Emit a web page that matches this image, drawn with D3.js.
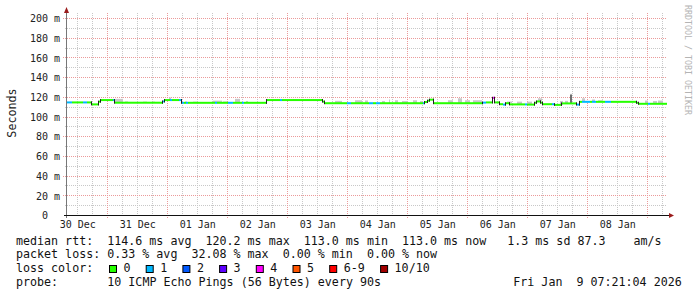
<!DOCTYPE html>
<html>
<head>
<meta charset="utf-8">
<script src="https://cdn.jsdelivr.net/npm/d3@7"></script>
<style>
  html, body { margin: 0; padding: 0; background: #fff; }
  svg text { font-family: "DejaVu Sans Mono", monospace; white-space: pre; }
</style>
</head>
<body>
<div id="chart"></div>
<script>
'use strict';

// median rtt as steps: hours after graph start, median in ms, lost pings (of 10)
var segHours = [0, 2, 6.4, 8, 10, 12.8, 13.6, 18.4, 19.2, 38.4, 39.2, 41.2, 42, 44.8, 46, 46.8, 47.6, 48.4,
    59.2, 60, 64.4, 66.4, 70, 70.8, 80, 85.2, 86, 102.4, 103.2, 112, 113.6, 120.8, 122.4, 123.6, 125.2,
    142.4, 143.2, 144.4, 145.2, 146.8, 166.4, 167.6, 170.4, 171.2, 173.2, 174.4, 175.6, 177.2, 183.2, 184,
    187.2, 188, 189.6, 190.4, 194, 195.2, 198, 204, 205.2, 206, 209.2, 210, 211.6, 215.2, 217.6, 228,
    228.8, 232.4, 233.2];
var segMs = [114.8, 114.8, 114.8, 114.8, 112.8, 115.6, 117.2, 117.2, 114.5, 115.8, 117.2, 117.2, 117.2, 117.2, 114.4, 114.4, 114.4, 114.4,
    114.4, 114.4, 114.4, 114.4, 114.4, 114.4, 117.2, 117.2, 117.2, 115.6, 114.0, 114.0, 114.0, 114.0, 114.0, 114.0, 114.0,
    114.0, 115.2, 116.6, 117.6, 114.0, 114.6, 114.8, 119.5, 114.8, 113.0, 112.6, 114.0, 112.8, 112.8, 112.6,
    114.5, 115.8, 114.5, 113.0, 113.0, 112.3, 113.8, 112.6, 115.4, 115.4, 115.4, 115.4, 115.4, 115.4, 115.4, 114.4,
    113.4, 113.4, 113.4];
var segLoss = [1, 0, 1, 0, 0, 0, 0, 1, 0, 1, 0, 1, 0, 1, 1, 0, 1, 0,
    1, 0, 1, 0, 1, 0, 0, 1, 0, 0, 0, 1, 0, 1, 0, 1, 0,
    1, 0, 0, 0, 0, 1, 0, 4, 0, 0, 1, 0, 0, 1, 0,
    0, 0, 0, 0, 1, 0, 0, 1, 0, 1, 0, 1, 0, 1, 0, 0,
    0, 1, 0];

// smoke (highest pings) above the median
var smokeFrom = [19.2, 23.2, 30.4, 34, 40.8, 47.2, 50.4, 58.4, 62.4, 67.2, 71.6, 90.4, 107.2, 115.2, 119.2, 126, 128.8,
    131.2, 134, 138.4, 141.2, 152.4, 156.4, 159.2, 162.4, 176, 180, 184, 188.4, 197.2, 199.2, 201.2, 206, 210,
    212.4, 231.2, 234.4, 236.4];
var smokeTo = [22.4, 24.4, 32, 35.2, 41.6, 48, 52, 62, 64, 69.2, 72.4, 92, 110, 118, 120.4, 127.2, 129.2,
    132.4, 136.4, 140, 142.4, 154.4, 158, 161.2, 166, 178, 182, 186, 190, 198.4, 200.4, 202, 207.2, 211.2,
    214.4, 232.4, 236, 238.4];
var smokeHi = [118.4, 115.8, 115.6, 115.6, 119.8, 115.8, 115.6, 116.6, 115.8, 118.4, 116.2, 118.2, 116.4, 117, 116.8, 116.2, 117.8,
    117, 116.2, 117, 116.2, 117, 119, 117, 117, 115.7, 115.6, 115.6, 119, 116.2, 116.4, 123.5, 119, 117.8,
    117, 116.7, 116.2, 116.7];
var darkFrom = [201.2];
var darkTo = [202];
var darkHi = [122.6];

var yTickValues = [0, 20, 40, 60, 80, 100, 120, 140, 160, 180, 200];
var lossLabels = ["0", "1", "2", "3", "4", "5", "6-9", "10/10"];
var lossColors = ["#26ff00", "#00b8ff", "#0059ff", "#5e00ff", "#ff00ff", "#ff5500", "#ff0000", "#a10000"];

var statLine1 = "median rtt:  114.6 ms avg  120.2 ms max  113.0 ms min  113.0 ms now   1.3 ms sd 87.3    am/s";
var statLine2 = "packet loss: 0.33 % avg  32.08 % max  0.00 % min  0.00 % now";
var probeLine = [["probe:", 16], ["10 ICMP Echo Pings (56 Bytes) every 90s", 107.3], ["Fri Jan  9 07:21:04 2026", 513.3]];

var start = new Date(2025, 11, 30, 7, 53);
var end = d3.timeHour.offset(start, 240);

var width = 697, height = 297;
var svg = d3.select("#chart").append("svg")
    .attr("width", width)
    .attr("height", height);

svg.append("rect").attr("width", width).attr("height", height).attr("fill", "#fff");

var x = d3.scaleTime().domain([start, end]).range([67, 667]);
var y = d3.scaleLinear().domain([0, 200]).range([215.5, 18.5]);
var hx = function (h) { return x(new Date(+start + h * 3600e3)); };
var crisp = function (v) { return Math.round(v - 0.5) + 0.5; };

// grid
var grid = svg.append("g");
var minorHours = d3.timeHour.every(6).range(start, end).filter(function (d) { return d.getHours() !== 0; });
var days = d3.timeDay.range(start, end);

grid.selectAll(".vmin").data(minorHours).enter().append("line")
    .attr("x1", function (d) { return crisp(x(d)); }).attr("x2", function (d) { return crisp(x(d)); })
    .attr("y1", 13).attr("y2", 217)
    .attr("stroke", "#c8c8c8").attr("stroke-dasharray", "1,1");
grid.selectAll(".hmin").data(d3.range(10, 200, 20)).enter().append("line")
    .attr("x1", 65).attr("x2", 667)
    .attr("y1", function (d) { return crisp(y(d)); }).attr("y2", function (d) { return crisp(y(d)); })
    .attr("stroke", "#c8c8c8").attr("stroke-dasharray", "1,1");
grid.selectAll(".vmaj").data(days).enter().append("line")
    .attr("x1", function (d) { return crisp(x(d)); }).attr("x2", function (d) { return crisp(x(d)); })
    .attr("y1", 13).attr("y2", 218)
    .attr("stroke", "#eb9a9a").attr("stroke-dasharray", "1,1");
grid.selectAll(".hmaj").data(yTickValues.slice(1)).enter().append("line")
    .attr("x1", 63).attr("x2", 667)
    .attr("y1", function (d) { return crisp(y(d)); }).attr("y2", function (d) { return crisp(y(d)); })
    .attr("stroke", "#eb9a9a").attr("stroke-dasharray", "1,1");

// median at an hour offset
var bis = d3.bisector(function (d) { return d; }).right;
function medianAt(h) { return segMs[Math.max(0, bis(segHours, h) - 1)]; }

// smoke
svg.append("g").selectAll("rect").data(smokeHi).enter().append("rect")
    .attr("x", function (d, i) { return hx(smokeFrom[i]); })
    .attr("width", function (d, i) { return hx(smokeTo[i]) - hx(smokeFrom[i]); })
    .attr("y", function (d) { return y(d); })
    .attr("height", function (d, i) { return Math.max(0, y(medianAt(smokeFrom[i])) - y(d)); })
    .attr("fill", "#c8c8c8");
svg.append("g").selectAll("rect").data(darkHi).enter().append("rect")
    .attr("x", function (d, i) { return hx(darkFrom[i]); })
    .attr("width", function (d, i) { return hx(darkTo[i]) - hx(darkFrom[i]); })
    .attr("y", function (d) { return y(d); })
    .attr("height", function (d, i) { return Math.max(0, y(medianAt(darkFrom[i])) - y(d)); })
    .attr("fill", "#6e6e6e");

// loss coloured median band
function lossIndex(n) { return n <= 5 ? n : (n < 10 ? 6 : 7); }
svg.append("g").selectAll("rect").data(segMs).enter().append("rect")
    .attr("x", function (d, i) { return hx(segHours[i]); })
    .attr("width", function (d, i) { return hx(i + 1 < segHours.length ? segHours[i + 1] : 240) - hx(segHours[i]); })
    .attr("y", function (d) { return y(d) - 1; })
    .attr("height", 2)
    .attr("fill", function (d, i) { return lossColors[lossIndex(segLoss[i])]; });

// dark step edges of the median
var steps = "";
for (var i = 1; i < segMs.length; i++) {
    if (Math.abs(segMs[i] - segMs[i - 1]) < 0.5) continue;
    var sx = Math.round(hx(segHours[i])) - 0.5;
    var a = y(segMs[i - 1]), b = y(segMs[i]);
    steps += "M" + sx + "," + (Math.min(a, b) - 1) + "V" + (Math.max(a, b) + 1);
}
svg.append("path").attr("d", steps).attr("stroke", "#202020").attr("fill", "none");

// axes
var xAxis = svg.append("g")
    .attr("transform", "translate(0,215.5)")
    .call(d3.axisBottom(x)
        .tickValues(d3.timeDay.range(d3.timeDay.floor(start), end)
            .map(function (d) { return d3.timeHour.offset(d, 12); })
            .filter(function (d) { return d < end; }))
        .tickFormat(d3.timeFormat("%d %b"))
        .tickSize(0).tickPadding(5));
xAxis.select(".domain").remove();
xAxis.selectAll("text").attr("font-family", "DejaVu Sans Mono").attr("font-size", "10px").attr("fill", "#222");

var yAxis = svg.append("g")
    .attr("transform", "translate(66.5,0)")
    .call(d3.axisLeft(y)
        .tickValues(yTickValues)
        .tickFormat(function (d) { return d === 0 ? "0  " : d + " m"; })
        .tickSize(0).tickPadding(6.5));
yAxis.select(".domain").remove();
yAxis.selectAll("text").attr("xml:space", "preserve")
    .attr("font-family", "DejaVu Sans Mono").attr("font-size", "10px").attr("fill", "#222");

svg.append("line").attr("x1", 66.5).attr("x2", 66.5).attr("y1", 12).attr("y2", 218).attr("stroke", "#777");
svg.append("line").attr("x1", 64).attr("x2", 670).attr("y1", 215.5).attr("y2", 215.5).attr("stroke", "#111");
svg.append("path").attr("d", "M64,13L69,13L66.5,7Z").attr("fill", "#9b1c1c");
svg.append("path").attr("d", "M669,213L669,218L674,215.5Z").attr("fill", "#9b1c1c");

svg.append("text")
    .attr("transform", "translate(15.5,113) rotate(-90)")
    .attr("text-anchor", "middle")
    .attr("font-size", "11.7px").attr("fill", "#222")
    .text("Seconds");

svg.append("text")
    .attr("transform", "translate(685,60) rotate(90)")
    .attr("text-anchor", "middle")
    .attr("font-size", "8.3px").attr("fill", "#b4b4b4")
    .text("RRDTOOL / TOBI OETIKER");

// legend
function textRow(items, base) {
    svg.append("g").selectAll("text").data(items).enter().append("text")
        .attr("xml:space", "preserve")
        .attr("x", function (d) { return d[1]; })
        .attr("y", base)
        .attr("font-size", "11.66px").attr("fill", "#111")
        .text(function (d) { return d[0]; });
}
textRow([[statLine1, 16]], 244.5);
textRow([[statLine2, 16]], 258);
textRow([["loss color:", 16]], 272);
textRow(probeLine, 286);

var lx = 109;
var legend = svg.append("g");
lossLabels.forEach(function (lab, i) {
    legend.append("rect").attr("x", lx + 0.5).attr("y", 265.5).attr("width", 7).attr("height", 7)
        .attr("fill", lossColors[i]).attr("stroke", "#000");
    legend.append("text").attr("x", lx + 14.5).attr("y", 272)
        .attr("font-size", "11.66px").attr("fill", "#111").text(lab);
    lx += 15 + lab.length * 7.1 + 14.6;
});
</script>
</body>
</html>
